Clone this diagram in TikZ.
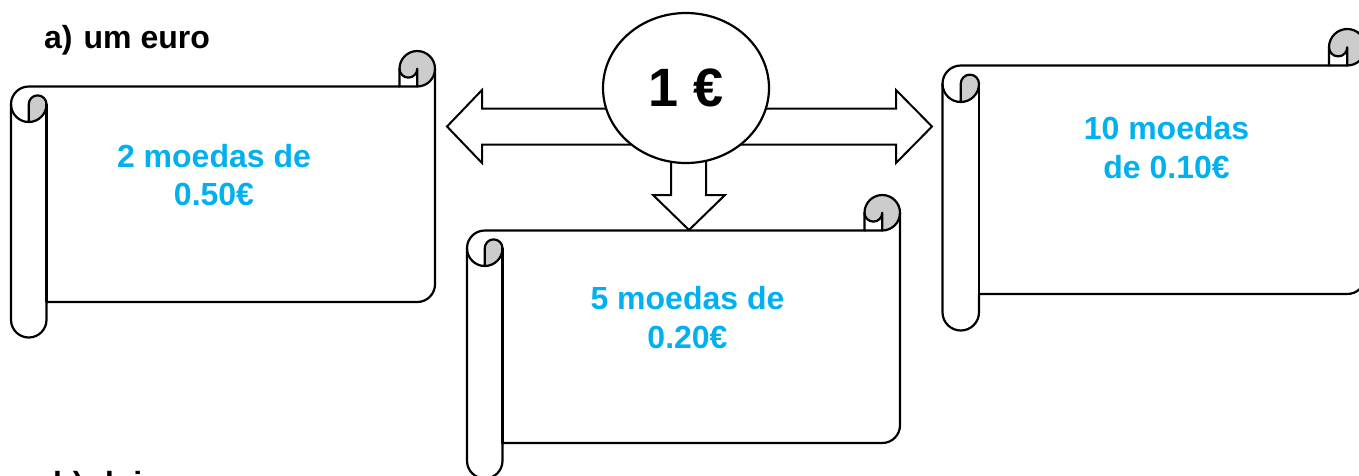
\documentclass[tikz,border=0pt]{standalone}
\usepackage{fontspec}
\setmainfont{Liberation Sans}
\usetikzlibrary{shapes.geometric}
\definecolor{txtblue}{RGB}{0,176,240}
\definecolor{curlgray}{RGB}{204,204,204}
\newcommand\myscroll[5]{%
 \pgfmathsetmacro\sL{#1}\pgfmathsetmacro\sT{#2}\pgfmathsetmacro\sR{#3}\pgfmathsetmacro\sB{#4}\pgfmathsetmacro\sC{#5}%
 \pgfmathsetmacro\sCh{\sC/2}\pgfmathsetmacro\sCq{\sC/4}%
 \pgfmathsetmacro\xA{\sL+\sCh}\pgfmathsetmacro\xB{\sL+\sC}%
 \pgfmathsetmacro\xC{\sR-\sC}\pgfmathsetmacro\xD{\sR-\sCh}%
 \pgfmathsetmacro\yA{\sT+\sCh}\pgfmathsetmacro\yB{\sT+\sC}%
 \pgfmathsetmacro\yC{\sT+1.5*\sC}\pgfmathsetmacro\yD{\sT+2*\sC}%
 \pgfmathsetmacro\yF{\sB-\sC}\pgfmathsetmacro\yG{\sB-\sCh}\pgfmathsetmacro\yE{\yF-\sCh}%
 \fill[white] (\sR,\yA) arc[start angle=0,delta angle=90,radius=\sCh] -- (\xD,\yA)
   arc[start angle=0,delta angle=180,radius=\sCq] -- (\xC,\yB) -- (\xA,\yB)
   arc[start angle=270,delta angle=-90,radius=\sCh] -- (\sL,\yG)
   arc[start angle=180,delta angle=-180,radius=\sCh] -- (\xB,\yF) -- (\xD,\yF)
   arc[start angle=90,delta angle=-90,radius=\sCh] -- cycle;
 \fill[curlgray] (\xA,\yD) arc[start angle=90,delta angle=-90,radius=\sCh]
   arc[start angle=0,delta angle=-180,radius=\sCq] -- cycle;
 \fill[curlgray] (\xD,\yB) arc[start angle=90,delta angle=-270,radius=\sCh]
   arc[start angle=180,delta angle=-180,radius=\sCq] -- cycle;
 \draw[scrollline] (\sL,\yC) arc[start angle=180,delta angle=90,radius=\sCh] -- (\xC,\yB) -- (\xC,\yA)
   arc[start angle=180,delta angle=180,radius=\sCh] -- (\sR,\yE)
   arc[start angle=0,delta angle=90,radius=\sCh] -- (\xB,\yF) -- (\xB,\yG)
   arc[start angle=0,delta angle=180,radius=\sCh] -- cycle;
 \draw[scrollline] (\xC,\yB) -- (\xD,\yB) arc[start angle=90,delta angle=-90,radius=\sCh];
 \draw[scrollline] (\xD,\yB) -- (\xD,\yA) arc[start angle=0,delta angle=180,radius=\sCq];
 \draw[scrollline] (\xA,\yD) -- (\xA,\yC) arc[start angle=180,delta angle=180,radius=\sCq]
   arc[start angle=0,delta angle=180,radius=\sCh];
 \draw[scrollline] (\xB,\yC) -- (\xB,\yF);
}
\begin{document}
\begin{tikzpicture}[x=1pt,y=-1pt,
  scrollline/.style={line width=2.2pt,line join=round,line cap=round},
  blockarrow/.style={fill=white,draw=black,line width=2pt,line join=miter},
  coin/.style={ellipse,draw=black,fill=white,line width=2.2pt,minimum width=166pt,minimum height=150pt,inner sep=0pt,font=\fontsize{54}{60}\selectfont\bfseries},
  label/.style={inner sep=0pt,font=\fontsize{32}{38}\selectfont\bfseries},
  coins/.style={inner sep=0pt,align=center,text=txtblue,font=\fontsize{32}{38.5}\selectfont\bfseries}]
\useasboundingbox (0,0) rectangle (1359,475);
\clip (0,0) rectangle (1359,475);
\fill[white] (0,0) rectangle (1359,475);
% scrolls
\myscroll{11}{51}{435}{337.5}{35.5}
\myscroll{467}{195}{900}{478.5}{35.5}
\myscroll{942.5}{29}{1365.5}{330.5}{36.5}
% block arrows
\draw[blockarrow] (447,126.5) -- (482,90) -- (482,108.5) -- (896,108.5) -- (896,90) -- (932,126.5)
  -- (896,163) -- (896,144.5) -- (482,144.5) -- (482,163) -- cycle;
\draw[blockarrow] (671,140) -- (706,140) -- (706,195) -- (725,195) -- (689,230) -- (653,195) -- (671,195) -- cycle;
% coin
\node[coin] (coin) at (686,88) {1 €};
% texts
\node[label,anchor=base west] (parta) at (44,48.3) {a)\hspace{11pt}um euro};
\node[label,anchor=base west] (partb) at (53,494.5) {b)\hspace{11pt}dois euros};
\node[coins,anchor=north] (t1) at (214,143.7) {2 moedas de\\0.50€};
\node[coins,anchor=north] (t2) at (687.5,286.3) {5 moedas de\\0.20€};
\node[coins,anchor=north] (t3) at (1166.5,116.5) {10 moedas\\de 0.10€};
\end{tikzpicture}
\end{document}
